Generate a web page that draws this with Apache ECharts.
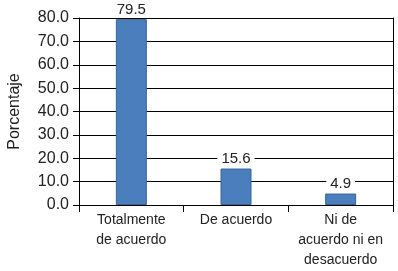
<!DOCTYPE html>
<html>
<head>
<meta charset="utf-8">
<script src="https://cdn.jsdelivr.net/npm/echarts@6/dist/echarts.min.js"></script>
<style>
  html, body { margin: 0; padding: 0; background: #fff; }
  #chart { width: 398px; height: 271px; }
</style>
</head>
<body>
<div id="chart"></div>
<script>
// datos
var categorias = ['Totalmente\nde acuerdo', 'De acuerdo', 'Ni de\nacuerdo ni en\ndesacuerdo'];
var porcentajes = [79.5, 15.6, 4.9];
var ticksY = [0, 10, 20, 30, 40, 50, 60, 70, 80];

var fuente = '"Liberation Sans", Arial, sans-serif';

var chart = echarts.init(document.getElementById('chart'));
chart.setOption({
    animation: false,
    backgroundColor: '#fff',
    grid: { left: 79, right: 5, top: 18, bottom: 66, outerBoundsMode: 'none', containLabel: false },
    xAxis: {
        type: 'category',
        data: categorias,
        axisLine: { lineStyle: { color: '#000', width: 1 } },
        axisTick: { show: true, length: 7, lineStyle: { color: '#000' } },
        axisLabel: {
            color: '#222',
            fontFamily: fuente,
            fontSize: 14,
            lineHeight: 20,
            margin: 5,
            interval: 0
        }
    },
    yAxis: [{
        type: 'value',
        min: ticksY[0],
        max: ticksY[ticksY.length - 1],
        interval: 10,
        name: 'Porcentaje',
        nameLocation: 'middle',
        nameRotate: 90,
        nameGap: 56,
        nameTextStyle: { color: '#222', fontFamily: fuente, fontSize: 16 },
        axisLine: { show: true, lineStyle: { color: '#000' } },
        axisTick: { show: true, length: 6, lineStyle: { color: '#000' } },
        splitLine: { lineStyle: { color: '#000', width: 1 } },
        axisLabel: {
            color: '#222',
            fontFamily: fuente,
            fontSize: 16,
            margin: 10,
            formatter: function (v) { return v.toFixed(1); }
        }
    }, {
        type: 'value',
        position: 'right',
        min: 0,
        max: 80,
        interval: 10,
        axisLine: { show: true, lineStyle: { color: '#000' } },
        axisTick: { show: false },
        axisLabel: { show: false },
        splitLine: { show: false }
    }],
    series: [{
        type: 'bar',
        data: porcentajes,
        barWidth: 31,
        itemStyle: { color: '#4a7ebd', borderColor: '#35649c', borderWidth: 1 },
        label: {
            show: true,
            position: 'top',
            distance: 2,
            color: '#222',
            fontFamily: fuente,
            fontSize: 15,
            backgroundColor: '#fff',
            padding: [0, 4],
            formatter: function (p) { return p.value.toFixed(1); }
        }
    }]
});
</script>
</body>
</html>
